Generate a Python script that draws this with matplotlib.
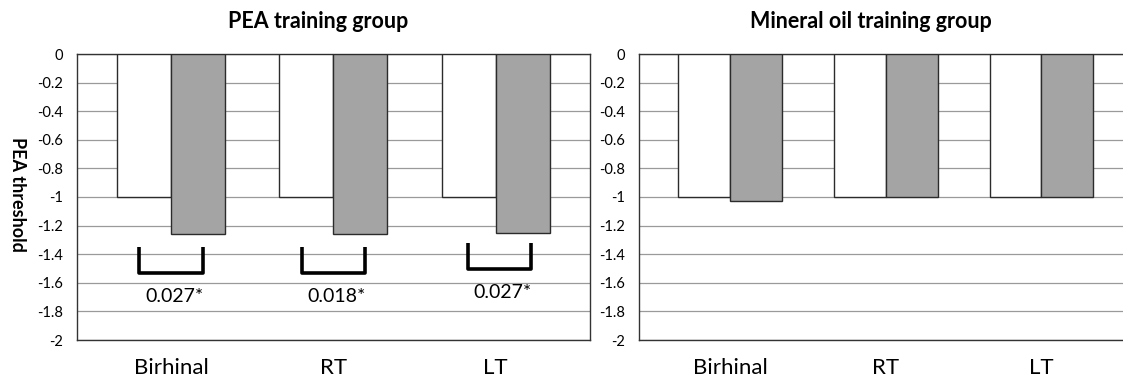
import numpy as np
import matplotlib
matplotlib.use('Agg')
import matplotlib.pyplot as plt

plt.rcParams['font.family'] = ['Lato', 'DejaVu Sans']

# ---- data ----
categories = ['Birhinal', 'RT', 'LT']
pea_before = [-1.0, -1.0, -1.0]
pea_after = [-1.26, -1.26, -1.25]
oil_before = [-1.0, -1.0, -1.0]
oil_after = [-1.03, -1.0, -1.0]
p_values = ['0.027*', '0.018*', '0.027*']
ytick_vals = [0, -0.2, -0.4, -0.6, -0.8, -1, -1.2, -1.4, -1.6, -1.8, -2]
ytick_text = ['0', '-0.2', '-0.4', '-0.6', '-0.8', '-1', '-1.2', '-1.4', '-1.6', '-1.8', '-2']

# bracket / p-value placement (left panel only)
br_shift = [0.0, 0.0, 0.025]
br_top = [-1.348, -1.348, -1.324]
br_bot = [-1.534, -1.534, -1.506]
p_y = [-1.732, -1.732, -1.709]
p_shift = [0.02, 0.02, 0.04]

W, H = 1123, 377
fig = plt.figure(figsize=(W / 100, H / 100), dpi=100)

bar_w = 0.333
edge = '#2b2b2b'
grey = '#a4a4a4'


def panel(rect, before, after, title):
	ax = fig.add_axes(rect)
	x = np.arange(len(categories))
	ax.bar(x - bar_w / 2, before, bar_w, color='white', edgecolor=edge, linewidth=1.0, zorder=3)
	ax.bar(x + bar_w / 2, after, bar_w, color=grey, edgecolor=edge, linewidth=1.0, zorder=3)
	ax.set_xlim(-0.582, 2.582)
	ax.set_ylim(-2, 0)
	ax.set_yticks(ytick_vals)
	ax.set_yticklabels(ytick_text, fontsize=10.5)
	ax.set_xticks(x)
	ax.set_xticklabels(categories, fontsize=16)
	ax.tick_params(axis='y', length=0, pad=10)
	ax.tick_params(axis='x', length=0, pad=13)
	ax.yaxis.grid(True, color='#9a9a9a', linewidth=0.9)
	ax.set_axisbelow(True)
	for s in ax.spines.values():
		s.set_color('#333333')
		s.set_linewidth(1.0)
	ax.text(0.471, 1.091, title, transform=ax.transAxes, ha='center', va='baseline',
			fontsize=15.5, fontweight='bold')
	return ax


axl = panel([76.7 / W, 37 / H, 513.3 / W, 286 / H], pea_before, pea_after, 'PEA training group')
axr = panel([639.3 / W, 37 / H, 492.7 / W, 286 / H], oil_before, oil_after, 'Mineral oil training group')

# significance brackets
hw = 0.195
for i, p in enumerate(p_values):
	c = i + br_shift[i]
	axl.plot([c - hw, c - hw, c + hw, c + hw], [br_top[i], br_bot[i], br_bot[i], br_top[i]],
			 color='black', linewidth=2.6, solid_joinstyle='round', solid_capstyle='butt', zorder=4)
	axl.text(i + p_shift[i], p_y[i], p, ha='center', va='baseline', fontsize=14, zorder=4)

fig.text(17 / W, 1 - 194.5 / H, 'PEA threshold', rotation=270, ha='center', va='center',
		 fontsize=13, fontweight='bold')

fig.savefig('out.png', dpi=100)
